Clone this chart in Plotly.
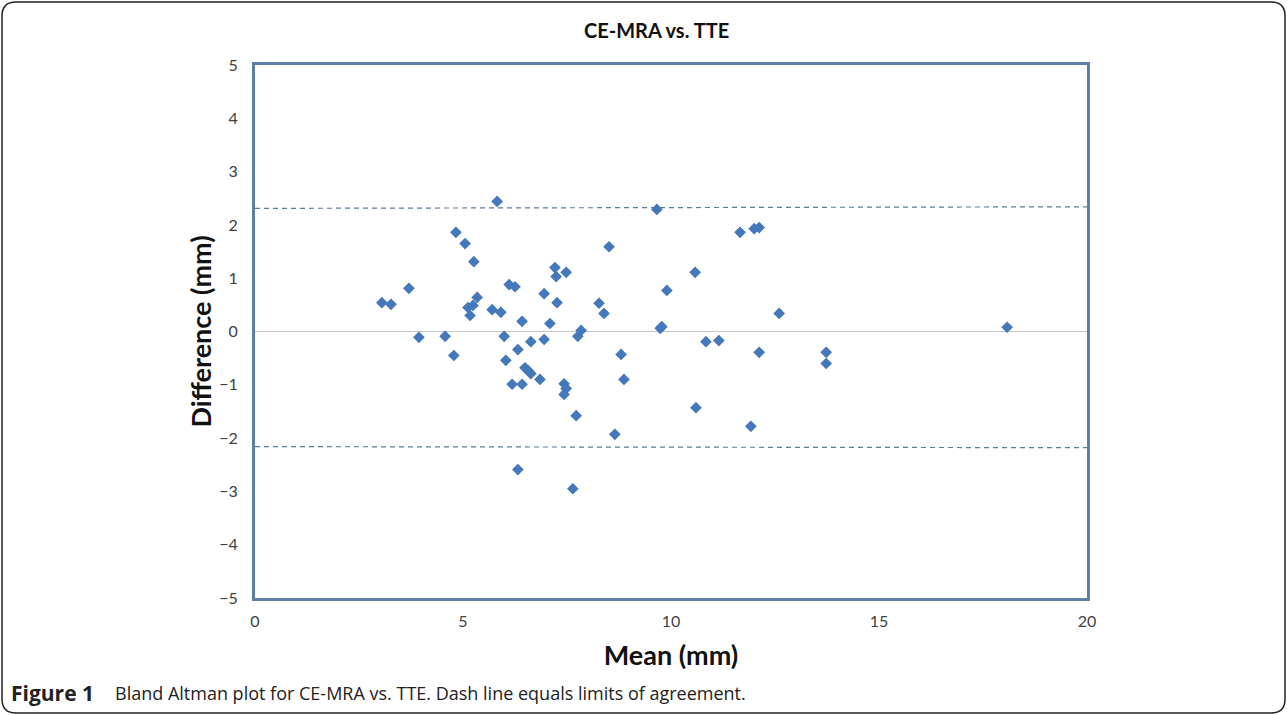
import plotly.graph_objects as go

# Bland-Altman data (mean, difference) in mm
mean_mm = [3.05, 3.27, 3.70, 3.94, 4.57, 4.78, 4.83, 5.05, 5.26, 5.34,
           5.12, 5.24, 5.17, 5.70, 5.91, 5.82, 5.99, 6.03, 6.11, 6.25,
           6.18, 6.42, 6.32, 6.42, 6.32, 6.49, 6.56, 6.63, 6.63, 6.85,
           6.95, 6.95, 7.09, 7.21, 7.24, 7.26, 7.43, 7.48, 7.43, 7.48,
           7.64, 7.72, 7.76, 7.84, 8.27, 8.39, 8.51, 8.80, 8.87, 8.65,
           9.66, 9.74, 9.78, 9.90, 10.58, 10.60, 10.84, 11.15, 11.66, 12.00,
           12.12, 11.92, 12.12, 12.60, 13.73, 13.73, 18.08]
diff_mm = [0.54, 0.51, 0.81, -0.11, -0.09, -0.45, 1.86, 1.65, 1.31, 0.64,
           0.45, 0.49, 0.30, 0.41, 0.36, 2.44, -0.09, -0.54, 0.88, 0.84,
           -0.99, -0.99, -0.34, 0.19, -2.59, -0.68, -0.73, -0.79, -0.19, -0.90,
           -0.15, 0.71, 0.15, 1.20, 1.03, 0.54, -0.98, -1.07, -1.18, 1.11,
           -2.95, -1.58, -0.09, 0.02, 0.53, 0.34, 1.59, -0.43, -0.90, -1.93,
           2.29, 0.06, 0.09, 0.77, 1.11, -1.43, -0.19, -0.17, 1.86, 1.93,
           1.95, -1.78, -0.39, 0.34, -0.39, -0.60, 0.08]

# limits of agreement (dashed lines)
loa_x = [0, 20]
upper_loa = [2.31, 2.34]
lower_loa = [-2.16, -2.18]

x_ticks = [0, 5, 10, 15, 20]
y_ticks = [-5, -4, -3, -2, -1, 0, 1, 2, 3, 4, 5]

W, H = 1287, 715
L, R, T, B = 255, 1087, 65, 598

fig = go.Figure()
for yv in (upper_loa, lower_loa):
    fig.add_trace(go.Scatter(x=loa_x, y=yv, mode="lines",
                             line=dict(color="#5a7a9a", width=1.2, dash="5px,4px"),
                             hoverinfo="skip", showlegend=False))
fig.add_trace(go.Scatter(x=mean_mm, y=diff_mm, mode="markers",
                         marker=dict(symbol="diamond", size=9, color="#4577BB",
                                     line=dict(width=0)),
                         showlegend=False))

def px(xp):
    return (xp - L) / (R - L)

def py(yp):
    return (B - yp) / (B - T)

# outer rounded frame
x0, x1, y0, y1, r = 2, 1285, 2, 713, 14
path = (f"M {px(x0 + r)},{py(y0)} L {px(x1 - r)},{py(y0)} "
        f"Q {px(x1)},{py(y0)} {px(x1)},{py(y0 + r)} "
        f"L {px(x1)},{py(y1 - r)} Q {px(x1)},{py(y1)} {px(x1 - r)},{py(y1)} "
        f"L {px(x0 + r)},{py(y1)} Q {px(x0)},{py(y1)} {px(x0)},{py(y1 - r)} "
        f"L {px(x0)},{py(y0 + r)} Q {px(x0)},{py(y0)} {px(x0 + r)},{py(y0)} Z")

fig.update_layout(
    width=W, height=H,
    margin=dict(l=L, r=W - R, t=T, b=H - B, autoexpand=False),
    paper_bgcolor="white", plot_bgcolor="white",
    font=dict(family="Lato, sans-serif", color="#404040"),
    shapes=[dict(type="path", path=path, xref="paper", yref="paper",
                 line=dict(color="#222222", width=1.5), layer="above")],
    xaxis=dict(range=[0, 20], tickvals=x_ticks, showgrid=False, zeroline=False,
               showline=True, mirror=True, linecolor="#5b7fa6", linewidth=3,
               ticks="", ticklabelstandoff=7,
               tickfont=dict(size=16, color="#404040"),
               title=dict(text="<b>Mean (mm)</b>", font=dict(size=27, color="#111111"),
                          standoff=17)),
    yaxis=dict(range=[-5, 5], tickvals=y_ticks, showgrid=False, zeroline=True,
               zerolinecolor="#c4c4c4", zerolinewidth=1.2,
               showline=True, mirror=True, linecolor="#5b7fa6", linewidth=3,
               ticks="", ticklabelstandoff=11,
               tickfont=dict(size=16, color="#404040"),
               title=dict(text="<b>Difference (mm)</b>", font=dict(size=27, color="#111111"),
                          standoff=0)),
    annotations=[
        dict(text="<b>CE-MRA vs. TTE</b>", x=px(656), y=py(30), xref="paper", yref="paper",
             showarrow=False, xanchor="center", yanchor="middle",
             font=dict(size=20, color="#111111")),
        dict(text="<b>Figure 1</b>",
             x=px(9), y=py(693), xref="paper", yref="paper", showarrow=False,
             xanchor="left", yanchor="middle",
             font=dict(family="Open Sans, sans-serif", size=21, color="#222222")),
        dict(text="Bland Altman plot for CE-MRA vs. TTE. Dash line equals limits of agreement.",
             x=px(113), y=py(693), xref="paper", yref="paper", showarrow=False,
             xanchor="left", yanchor="middle",
             font=dict(family="Open Sans, sans-serif", size=18, color="#222222")),
    ],
)

fig.write_html("out.html", config={"displayModeBar": False},
               post_script="document.body.style.margin='0';")
